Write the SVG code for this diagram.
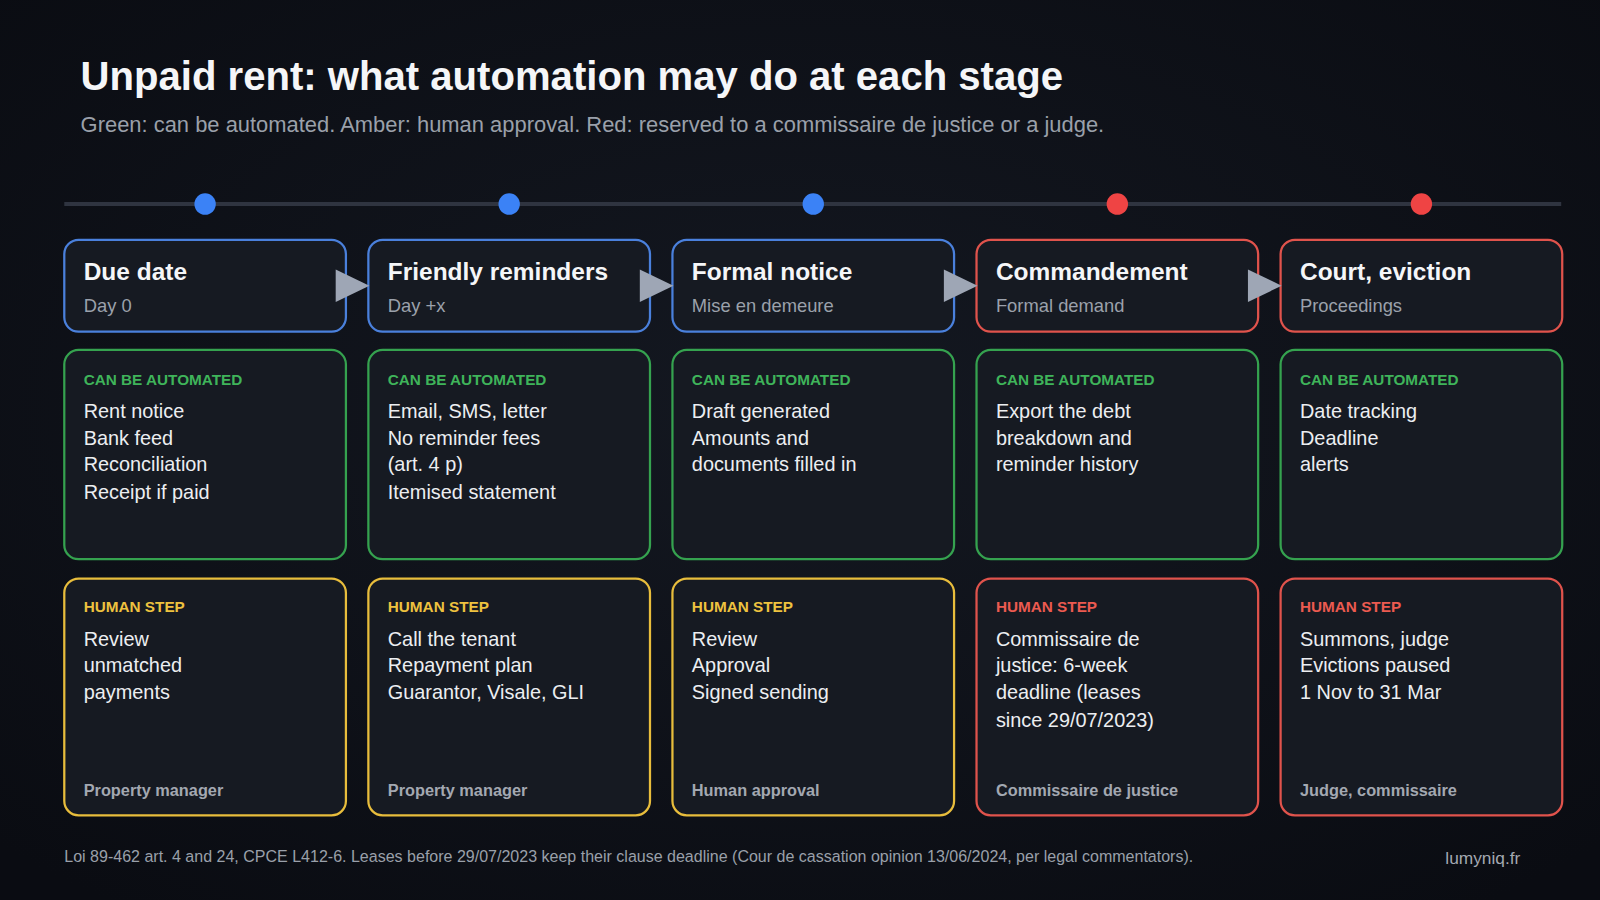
<svg xmlns="http://www.w3.org/2000/svg" width="1600" height="900" viewBox="0 0 1600 900">
<defs>
<radialGradient id="bg" cx="50%" cy="45%" r="70%"><stop offset="0" stop-color="#141821"/><stop offset="1" stop-color="#0a0c12"/></radialGradient>
<style>
text{font-family:"Liberation Sans",Arial,sans-serif}
.box{fill:#161a22;stroke-width:2.2}
.b{stroke:#4a80dc}.g{stroke:#35a24f}.a{stroke:#e8bd3c}.r{stroke:#e0534c}
.h{font-size:24px;font-weight:bold;fill:#f5f6f8}
.s{font-size:18px;fill:#9ba1ab}
.lg{font-size:15px;font-weight:bold;fill:#3fb45a}
.la{font-size:15px;font-weight:bold;fill:#eec23f}
.lr{font-size:15px;font-weight:bold;fill:#ec5a50}
.t{font-size:19.5px;fill:#eceef1}
.f{font-size:16px;font-weight:bold;fill:#a3a8b1}
.arr{fill:#9ea6b5}
</style>
</defs>
<rect width="1600" height="900" fill="url(#bg)"/>
<g transform="scale(1.0204)">
<text x="79" y="88" font-size="39.3" font-weight="bold" fill="#f5f6f8">Unpaid rent: what automation may do at each stage</text>
<text x="79" y="129" font-size="21.5" fill="#9aa0aa">Green: can be automated. Amber: human approval. Red: reserved to a commissaire de justice or a judge.</text>
<g id="timeline">
<line x1="63" y1="200" x2="1530" y2="200" stroke="#2f3440" stroke-width="4"/>
<circle cx="201" cy="200" r="10.5" fill="#3b82f6"/>
<circle cx="499" cy="200" r="10.5" fill="#3b82f6"/>
<circle cx="797" cy="200" r="10.5" fill="#3b82f6"/>
<circle cx="1095" cy="200" r="10.5" fill="#ef4444"/>
<circle cx="1393" cy="200" r="10.5" fill="#ef4444"/>
</g>
<g id="stage1">
<rect class="box b" x="63" y="235" width="276" height="90" rx="14"/>
<text class="h" x="82" y="274">Due date</text><text class="s" x="82" y="306">Day 0</text>
<rect class="box g" x="63" y="343" width="276" height="205" rx="14"/>
<text class="lg" x="82" y="377">CAN BE AUTOMATED</text>
<text class="t" x="82" y="410">Rent notice</text><text class="t" x="82" y="436">Bank feed</text><text class="t" x="82" y="462">Reconciliation</text><text class="t" x="82" y="489">Receipt if paid</text>
<rect class="box a" x="63" y="567" width="276" height="232" rx="14"/>
<text class="la" x="82" y="600">HUMAN STEP</text>
<text class="t" x="82" y="633">Review</text><text class="t" x="82" y="659">unmatched</text><text class="t" x="82" y="685">payments</text>
<text class="f" x="82" y="780">Property manager</text>
</g>
<g id="stage2">
<rect class="box b" x="361" y="235" width="276" height="90" rx="14"/>
<text class="h" x="380" y="274">Friendly reminders</text><text class="s" x="380" y="306">Day +x</text>
<rect class="box g" x="361" y="343" width="276" height="205" rx="14"/>
<text class="lg" x="380" y="377">CAN BE AUTOMATED</text>
<text class="t" x="380" y="410">Email, SMS, letter</text><text class="t" x="380" y="436">No reminder fees</text><text class="t" x="380" y="462">(art. 4 p)</text><text class="t" x="380" y="489">Itemised statement</text>
<rect class="box a" x="361" y="567" width="276" height="232" rx="14"/>
<text class="la" x="380" y="600">HUMAN STEP</text>
<text class="t" x="380" y="633">Call the tenant</text><text class="t" x="380" y="659">Repayment plan</text><text class="t" x="380" y="685">Guarantor, Visale, GLI</text>
<text class="f" x="380" y="780">Property manager</text>
</g>
<g id="stage3">
<rect class="box b" x="659" y="235" width="276" height="90" rx="14"/>
<text class="h" x="678" y="274">Formal notice</text><text class="s" x="678" y="306">Mise en demeure</text>
<rect class="box g" x="659" y="343" width="276" height="205" rx="14"/>
<text class="lg" x="678" y="377">CAN BE AUTOMATED</text>
<text class="t" x="678" y="410">Draft generated</text><text class="t" x="678" y="436">Amounts and</text><text class="t" x="678" y="462">documents filled in</text>
<rect class="box a" x="659" y="567" width="276" height="232" rx="14"/>
<text class="la" x="678" y="600">HUMAN STEP</text>
<text class="t" x="678" y="633">Review</text><text class="t" x="678" y="659">Approval</text><text class="t" x="678" y="685">Signed sending</text>
<text class="f" x="678" y="780">Human approval</text>
</g>
<g id="stage4">
<rect class="box r" x="957" y="235" width="276" height="90" rx="14"/>
<text class="h" x="976" y="274">Commandement</text><text class="s" x="976" y="306">Formal demand</text>
<rect class="box g" x="957" y="343" width="276" height="205" rx="14"/>
<text class="lg" x="976" y="377">CAN BE AUTOMATED</text>
<text class="t" x="976" y="410">Export the debt</text><text class="t" x="976" y="436">breakdown and</text><text class="t" x="976" y="462">reminder history</text>
<rect class="box r" x="957" y="567" width="276" height="232" rx="14"/>
<text class="lr" x="976" y="600">HUMAN STEP</text>
<text class="t" x="976" y="633">Commissaire de</text><text class="t" x="976" y="659">justice: 6-week</text><text class="t" x="976" y="685">deadline (leases</text><text class="t" x="976" y="712">since 29/07/2023)</text>
<text class="f" x="976" y="780">Commissaire de justice</text>
</g>
<g id="stage5">
<rect class="box r" x="1255" y="235" width="276" height="90" rx="14"/>
<text class="h" x="1274" y="274">Court, eviction</text><text class="s" x="1274" y="306">Proceedings</text>
<rect class="box g" x="1255" y="343" width="276" height="205" rx="14"/>
<text class="lg" x="1274" y="377">CAN BE AUTOMATED</text>
<text class="t" x="1274" y="410">Date tracking</text><text class="t" x="1274" y="436">Deadline</text><text class="t" x="1274" y="462">alerts</text>
<rect class="box r" x="1255" y="567" width="276" height="232" rx="14"/>
<text class="lr" x="1274" y="600">HUMAN STEP</text>
<text class="t" x="1274" y="633">Summons, judge</text><text class="t" x="1274" y="659">Evictions paused</text><text class="t" x="1274" y="685">1 Nov to 31 Mar</text>
<text class="f" x="1274" y="780">Judge, commissaire</text>
</g>
<g id="connectors">
<polygon class="arr" points="329,264 362,280 329,296"/>
<polygon class="arr" points="627,264 660,280 627,296"/>
<polygon class="arr" points="925,264 958,280 925,296"/>
<polygon class="arr" points="1223,264 1256,280 1223,296"/>
</g>
<text x="63" y="845" font-size="15.7" fill="#9aa0aa">Loi 89-462 art. 4 and 24, CPCE L412-6. Leases before 29/07/2023 keep their clause deadline (Cour de cassation opinion 13/06/2024, per legal commentators).</text>
<text x="1490" y="847" font-size="17" fill="#a3a8b1" text-anchor="end">lumyniq.fr</text>
</g>
</svg>
